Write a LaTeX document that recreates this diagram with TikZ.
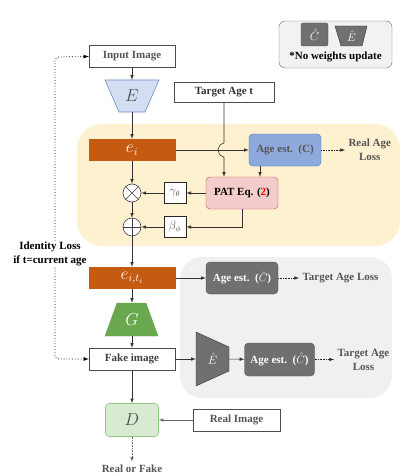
\documentclass[tikz,border=0pt]{standalone}
\usepackage{fontspec}
\setmainfont{Liberation Serif}
\usepackage{xcolor}
\usepackage{tikz}
\usetikzlibrary{calc}
\usetikzlibrary{positioning}
\usetikzlibrary{arrows}

\definecolor{regionyellow}{HTML}{FDF1CF}
\definecolor{regiongray}{HTML}{F0F0F0}
\definecolor{legendgray}{HTML}{F2F2F2}
\definecolor{embedorange}{HTML}{C55A11}
\definecolor{encblue}{HTML}{D4DEF2}
\definecolor{encborder}{HTML}{6C8EBF}
\definecolor{ageblue}{HTML}{8EA9DB}
\definecolor{ageborder}{HTML}{4472C4}
\definecolor{patpink}{HTML}{F4CCCC}
\definecolor{patborder}{HTML}{B85450}
\definecolor{gengreen}{HTML}{6AA84F}
\definecolor{discgreen}{HTML}{D9EAD3}
\definecolor{discborder}{HTML}{93C47D}
\definecolor{frozengray}{HTML}{707070}
\definecolor{frozenborder}{HTML}{505050}
\definecolor{textgray}{HTML}{555555}

\tikzset{
	lbl/.style={font=\bfseries\fontsize{11}{14}\selectfont,align=center},
	mathlbl/.style={font=\fontsize{16}{16}\selectfont},
	imgbox/.style={lbl,draw=black!70,fill=white,minimum width=86,minimum height=22,inner sep=1pt,text=textgray},
	embbox/.style={mathlbl,fill=embedorange,minimum width=87,minimum height=22,inner sep=1pt,text=white},
	agebox/.style={lbl,draw,rounded corners=4,minimum height=32,inner sep=1pt},
	frozenbox/.style={agebox,fill=frozengray,draw=frozenborder,text=white},
	parambox/.style={draw=black!85,thick,fill=white,minimum width=22,minimum height=21,inner sep=0,text=textgray,font=\fontsize{12}{12}\selectfont},
	opnode/.style={circle,draw=black!75,semithick,fill=white,minimum size=18,inner sep=0},
	arr/.style={-latex,semithick,black!80},
	dotarr/.style={-latex,semithick,densely dotted,black!85},
}

\begin{document}
\begin{tikzpicture}[x=1pt,y=-1pt]
	\useasboundingbox (0,0) rectangle (416,476);
	% regions
	\fill[regionyellow,rounded corners=25] (77,124) rectangle (400,246);
	\fill[regiongray,rounded corners=22] (180,257) rectangle (392,398);
	\filldraw[fill=legendgray,draw=black!60,rounded corners=6] (279,21) rectangle (392,68);

	% legend
	\node[frozenbox,minimum width=27,minimum height=23,rounded corners=2,font=\fontsize{12}{12}\selectfont] (legc) at (314.5,34.5) {$\hat{C}$};
	\filldraw[fill=frozengray,draw=black!80] (335,26) -- (367,26) -- (362,46) -- (341,46) -- cycle;
	\node[text=white,font=\fontsize{11}{11}\selectfont,inner sep=0] (lege) at (351.5,36) {$\hat{E}$};
	\node[lbl] (nowt) at (335.5,57) {*No weights update};

	% encoder column
	\node[imgbox] (input) at (132,56.5) {Input Image};
	\filldraw[fill=encblue,draw=encborder,semithick] (105,80) -- (159,80) -- (145,112) -- (119,112) -- cycle;
	\node[mathlbl,text=black!70,minimum width=54,minimum height=32,inner sep=0] (enc) at (132,96) {$E$};
	\node[imgbox,text=black!80,minimum width=100,minimum height=20] (target) at (224,92) {Target Age t};

	\node[embbox] (ei) at (132,150) {$e_i$};
	\node[agebox,fill=ageblue,draw=ageborder,text=textgray,minimum width=72] (agec) at (285,150) {Age est.~~(C)};
	\node[lbl,text=textgray,anchor=west] (realloss) at (345,150) {Real Age\\Loss};
	\node[agebox,fill=patpink,draw=patborder,text=black,minimum width=72] (pat) at (242,193) {PAT Eq. (\textcolor{red}{2})};

	\node[opnode] (mul) at (132,193) {};
	\draw[black!75,semithick] (mul.north west) -- (mul.south east) (mul.north east) -- (mul.south west);
	\node[opnode] (add) at (132,227) {};
	\draw[black!75,semithick] (add.north) -- (add.south) (add.west) -- (add.east);
	\node[parambox] (gam) at (175,193) {$\gamma_\theta$};
	\node[parambox] (bet) at (175,227) {$\beta_\phi$};

	\node[embbox] (eit) at (132,278) {$e_{i,t_i}$};
	\node[frozenbox,minimum width=72] (ageup) at (242,278) {Age est.~~($\hat{C}$)};
	\node[lbl,text=textgray,anchor=west] (tlossup) at (299,278) {Target Age Loss};

	\filldraw[fill=gengreen,draw=gengreen] (117,303) -- (146,303) -- (158,336) -- (105,336) -- cycle;
	\node[mathlbl,text=white,minimum width=53,minimum height=33,inner sep=0] (gen) at (132,319.5) {$G$};

	\node[imgbox,text=black!75] (fake) at (132,359) {Fake image};
	\filldraw[fill=frozengray,draw=black!80] (196,332) -- (229,347) -- (229,371) -- (196,386) -- cycle;
	\node[text=white,font=\fontsize{13}{13}\selectfont,minimum width=33,minimum height=54,inner sep=0] (ehat) at (212.5,359) {$\hat{E}$};
	\node[frozenbox,minimum width=70,minimum height=33] (agelow) at (279.5,359.5) {Age est.~~($\hat{C}$)};
	\node[lbl,text=textgray,anchor=west] (tlosslow) at (334,359.5) {Target Age\\Loss};

	\node[mathlbl,draw=discborder,semithick,fill=discgreen,rounded corners=4,minimum width=53,minimum height=33,inner sep=0,text=black!70] (disc) at (132,420) {$D$};
	\node[imgbox,minimum width=87] (real) at (236.5,420) {Real Image};
	\node[lbl,text=textgray] (rof) at (132,469) {Real or Fake};

	% connectors
	\draw[arr] (input) -- (enc);
	\draw[arr] (enc) -- (ei);
	\draw[arr] (ei) -- (agec);
	\draw[arr] (target.south) -- (224,143) .. controls (216,145) and (216,155) .. (224,157) -- (pat.north -| target.south);
	\draw[arr] (agec.south -| 260,0) -- (pat.north -| 260,0);
	\draw[dotarr] (agec) -- (realloss);
	\draw[arr] (pat) -- (gam);
	\draw[arr] (gam) -- (mul);
	\draw[arr] (pat.south) |- (bet);
	\draw[arr] (bet) -- (add);
	\draw[arr] (ei) -- (mul);
	\draw[arr] (mul) -- (add);
	\draw[arr] (add) -- (eit);
	\draw[arr] (eit) -- (ageup);
	\draw[dotarr] (ageup) -- (tlossup);
	\draw[arr] (eit) -- (gen);
	\draw[arr] (gen) -- (fake);
	\draw[arr] (fake) -- (ehat);
	\draw[arr] (ehat) -- (agelow);
	\draw[dotarr] (agelow) -- (tlosslow);
	\draw[arr] (fake) -- (disc);
	\draw[arr,black!60] (real) -- (disc);
	\draw[dotarr,black!60] (disc) -- (rof);
	\draw[latex-latex,thick,dotted,rounded corners=4] (fake.west) -- (55,359) -- (55,57) -- (input.west);
	\node[lbl,fill=white,inner sep=1pt] (idloss) at (50,254) {Identity Loss\\if t=current age};
\end{tikzpicture}
\end{document}
